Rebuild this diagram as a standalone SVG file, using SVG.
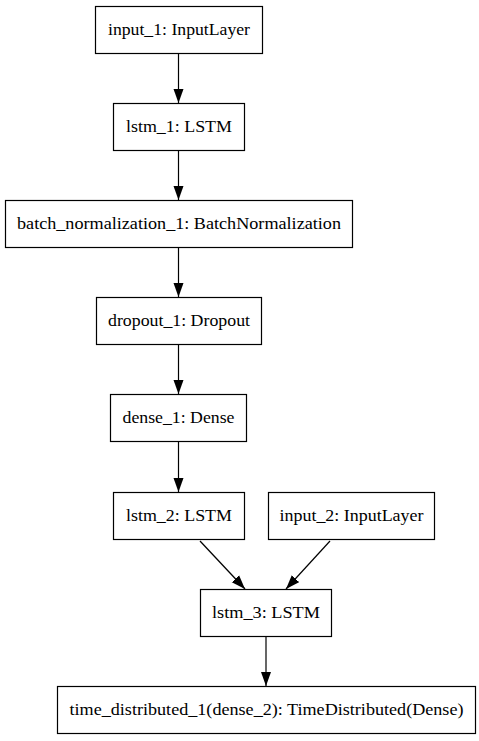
<svg xmlns="http://www.w3.org/2000/svg" width="479" height="741" viewBox="0 0 479 741">
<defs>
<marker id="ah" markerWidth="14" markerHeight="11" viewBox="0 0 14 11" refX="14" refY="5.5" orient="auto" markerUnits="userSpaceOnUse">
<path d="M0,0.5 L14,5.5 L0,10.5 Z" fill="#000"/>
</marker>
<style>
.n rect{fill:#fff;stroke:#000;stroke-width:1.2}
.n text{font-family:"Liberation Serif","Times New Roman",serif;font-size:17px;fill:#000;text-anchor:middle}
.e line{stroke:#000;stroke-width:1.2;marker-end:url(#ah)}
</style>
</defs>
<rect width="479" height="741" fill="#fff"/>
<g id="input_1" class="n"><rect x="95.5" y="6.5" width="167" height="47"/><text x="179" y="35" textLength="142" lengthAdjust="spacingAndGlyphs">input_1: InputLayer</text></g>
<g id="lstm_1" class="n"><rect x="113.5" y="103.5" width="131" height="47"/><text x="179" y="132" textLength="106" lengthAdjust="spacingAndGlyphs">lstm_1: LSTM</text></g>
<g id="batch_normalization_1" class="n"><rect x="5.5" y="200.5" width="347" height="47"/><text x="179" y="229" textLength="324" lengthAdjust="spacingAndGlyphs">batch_normalization_1: BatchNormalization</text></g>
<g id="dropout_1" class="n"><rect x="96.5" y="297.5" width="165" height="47"/><text x="179" y="326" textLength="142" lengthAdjust="spacingAndGlyphs">dropout_1: Dropout</text></g>
<g id="dense_1" class="n"><rect x="110.5" y="394.5" width="136" height="47"/><text x="178.5" y="423" textLength="112" lengthAdjust="spacingAndGlyphs">dense_1: Dense</text></g>
<g id="lstm_2" class="n"><rect x="113.5" y="492.5" width="131" height="47"/><text x="179" y="521" textLength="106" lengthAdjust="spacingAndGlyphs">lstm_2: LSTM</text></g>
<g id="input_2" class="n"><rect x="268.5" y="492.5" width="166" height="47"/><text x="351.5" y="521" textLength="144" lengthAdjust="spacingAndGlyphs">input_2: InputLayer</text></g>
<g id="lstm_3" class="n"><rect x="200.5" y="589.5" width="131" height="47"/><text x="266" y="618" textLength="108" lengthAdjust="spacingAndGlyphs">lstm_3: LSTM</text></g>
<g id="time_distributed_1" class="n"><rect x="57.5" y="686.5" width="418" height="47"/><text x="266.5" y="715" textLength="394" lengthAdjust="spacingAndGlyphs">time_distributed_1(dense_2): TimeDistributed(Dense)</text></g>
<g id="edges" class="e">
<line x1="178.5" y1="54" x2="178.5" y2="103"/>
<line x1="178.5" y1="151" x2="178.5" y2="200"/>
<line x1="178.5" y1="248" x2="178.5" y2="297"/>
<line x1="178.5" y1="345" x2="178.5" y2="394"/>
<line x1="178.5" y1="442" x2="178.5" y2="492"/>
<line x1="200" y1="541" x2="245" y2="589"/>
<line x1="330" y1="541" x2="286" y2="589"/>
<line x1="266" y1="637" x2="266" y2="686"/>
</g>
</svg>
